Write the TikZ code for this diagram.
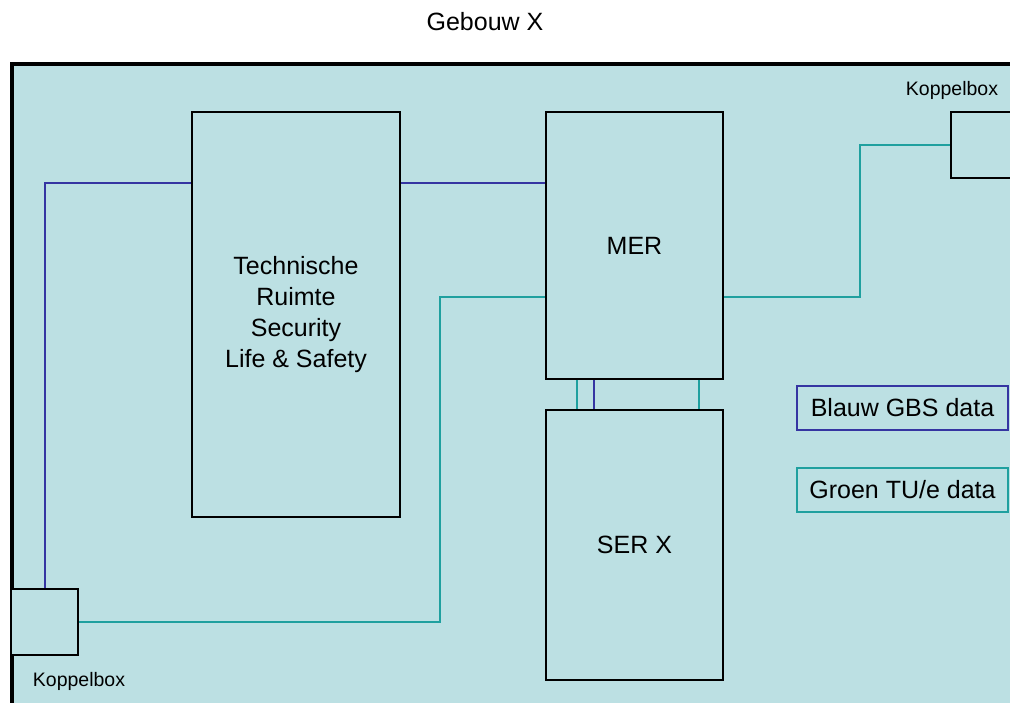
\documentclass[tikz,border=0pt]{standalone}
\usepackage{fontspec}
\setmainfont{Liberation Sans}
\usepackage{xcolor}
\usetikzlibrary{positioning}
\definecolor{gebouwbg}{HTML}{BCE0E3}
\definecolor{gbsblue}{HTML}{3535A2}
\definecolor{tuegreen}{HTML}{1FA09F}
\tikzset{
ruimte/.style={draw=black, line width=2pt, fill=gebouwbg, anchor=north west, inner sep=0pt, align=center, font=\fontsize{25}{30.7}\selectfont},
gbs/.style={draw=gbsblue, line width=2pt},
tue/.style={draw=tuegreen, line width=2pt},
legenda/.style={line width=2pt, fill=gebouwbg, minimum width=211pt, minimum height=44pt, inner sep=0pt, font=\fontsize{25}{30}\selectfont},
klein/.style={font=\fontsize{19.5}{22}\selectfont}
}
\newcommand{\kast}[4]{node[ruimte, minimum width=#2pt, minimum height=#3pt] (#1) {#4}}

\begin{document}
\begin{tikzpicture}[x=1pt, y=-1pt]
	\clip (0,0) rectangle (1010,703);
	\fill[white] (0,0) rectangle (1010,703);
	\node[font=\fontsize{25}{30}\selectfont] (titel) at (485,22) {Gebouw X};
	\draw[line width=4pt, fill=gebouwbg] (12,64) rectangle (1200,800);

	\path (191,111) \kast{tech}{208}{405}{Technische\\Ruimte\\ Security\\Life \& Safety};
	\path (545,111) \kast{mer}{177}{267}{MER};
	\path (545,409) \kast{ser}{177}{270}{SER X};
	\path (950,111) \kast{kbR}{100}{66}{};
	\path (10,588) \kast{kbL}{67}{66}{};
	\node[klein] (kbRlabel) at (952,90) {Koppelbox};
	\node[klein] (kbLlabel) at (79,681) {Koppelbox};

	\coordinate (gbsy) at (0,183);
	\coordinate (tuA) at (440,297);
	\coordinate (tuB) at (860,297);

	\draw[gbs] (kbL.north) |- (tech.west |- gbsy);
	\draw[gbs] (tech.east |- gbsy) -- (mer.west |- gbsy);
	\draw[tue] (kbL.east) -| (tuA) -- (mer.west |- tuA);
	\draw[tue] (mer.east |- tuA) -- (tuB) |- (kbR.west);

	\foreach \dx/\kleur in {32/tue, 49/gbs, 154/tue}
		\draw[\kleur] ([xshift=\dx pt]mer.south west) -- ([xshift=\dx pt]ser.north west);

	\node[legenda, draw=gbsblue] (legGBS) at (902.5,408) {Blauw GBS data};
	\node[legenda, draw=tuegreen] (legTUe) at (902.5,490) {Groen TU/e data};
\end{tikzpicture}
\end{document}
